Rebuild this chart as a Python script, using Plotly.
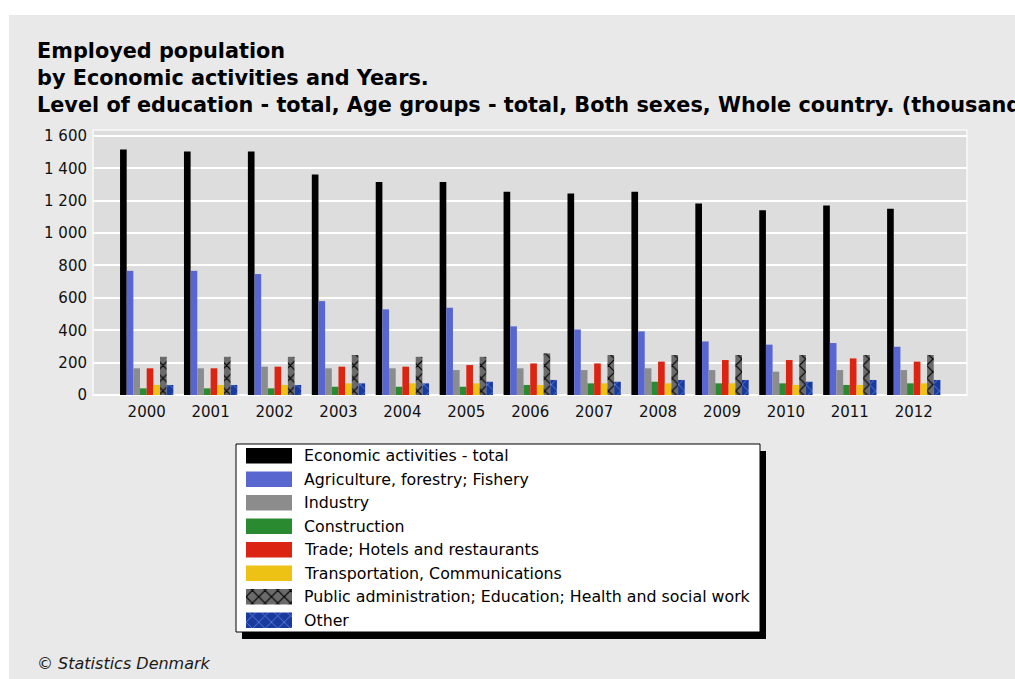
import plotly.graph_objects as go

# ---------------- data ----------------
years = ["2000", "2001", "2002", "2003", "2004", "2005", "2006",
         "2007", "2008", "2009", "2010", "2011", "2012"]

series_names = [
    "Economic activities - total",
    "Agriculture, forestry; Fishery",
    "Industry",
    "Construction",
    "Trade; Hotels and restaurants",
    "Transportation, Communications",
    "Public administration; Education; Health and social work",
    "Other",
]

total = [1517, 1504, 1504, 1362, 1316, 1316, 1255, 1244, 1255, 1183, 1141, 1170, 1150]
agriculture = [767, 767, 747, 580, 529, 539, 424, 405, 393, 331, 311, 321, 298]
industry = [165, 165, 175, 165, 165, 154, 165, 154, 165, 154, 144, 154, 154]
construction = [41, 41, 41, 51, 51, 51, 62, 72, 82, 72, 72, 62, 72]
trade = [165, 165, 175, 175, 175, 185, 195, 195, 206, 216, 216, 226, 206]
transport = [62, 62, 62, 72, 72, 72, 62, 72, 72, 72, 62, 62, 72]
public = [236, 236, 236, 247, 236, 236, 257, 247, 247, 247, 247, 247, 247]
other = [62, 62, 62, 72, 72, 82, 93, 82, 93, 93, 82, 93, 93]

series_values = [total, agriculture, industry, construction, trade, transport, public, other]

y_tick_values = [0, 200, 400, 600, 800, 1000, 1200, 1400, 1600]

title_lines = [
    "Employed population",
    "by Economic activities and Years.",
    "Level of education - total, Age groups - total, Both sexes, Whole country. (thousand)",
]
footer_text = "© Statistics Denmark"

# ---------------- styles ----------------
FONT = "DejaVu Sans"
markers = [
    dict(color="#000000"),
    dict(color="#5767cf"),
    dict(color="#8c8c8c"),
    dict(color="#2a8a30"),
    dict(color="#dc2412"),
    dict(color="#eec214"),
    dict(color="#6b6b6b", pattern=dict(shape="x", fillmode="replace",
                                        bgcolor="#6b6b6b", fgcolor="#000000",
                                        size=9, solidity=0.25)),
    dict(color="#1a3a9c", pattern=dict(shape="x", fillmode="replace",
                                        bgcolor="#1a3a9c", fgcolor="#5a7ae0",
                                        size=9, solidity=0.2)),
]

W, H = 1015, 679
L, R, T, B = 93, 48, 130, 47
PW = W - L - R
PH = H - T - B


def px(x):
    return (x - L) / PW


def py(y):
    return (H - B - y) / PH


fig = go.Figure()

# main bars
for name, vals, mk in zip(series_names, series_values, markers):
    m = dict(mk)
    m["line"] = dict(width=0)
    fig.add_trace(go.Bar(x=years, y=vals, name=name, marker=m,
                         xaxis="x", yaxis="y", showlegend=False))

# legend swatches (drawn on a small helper axis)
for name, mk in zip(series_names, markers):
    m = dict(mk)
    m["line"] = dict(width=0)
    fig.add_trace(go.Bar(x=[1], y=[name], orientation="h", marker=m,
                         xaxis="x2", yaxis="y2", width=0.66,
                         offsetgroup="legend", showlegend=False,
                         hoverinfo="skip"))

shapes = [
    # grey panel
    dict(type="rect", xref="paper", yref="paper",
         x0=px(9), x1=px(W + 5), y0=py(15), y1=py(H + 5),
         fillcolor="#e9e9e9", line=dict(width=0), layer="below"),
    # plot area background
    dict(type="rect", xref="x domain", yref="y domain",
         x0=0, x1=1, y0=0, y1=1,
         fillcolor="#dddddd", line=dict(color="#f4f4f4", width=2), layer="below"),
    # legend shadow
    dict(type="rect", xref="paper", yref="paper",
         x0=px(242), x1=px(766), y0=py(451), y1=py(639),
         fillcolor="#000000", line=dict(width=0), layer="below"),
    # legend box
    dict(type="rect", xref="paper", yref="paper",
         x0=px(236), x1=px(760), y0=py(444), y1=py(632),
         fillcolor="#ffffff", line=dict(color="#000000", width=1), layer="below"),
]

annotations = []
# legend texts
for name in series_names:
    annotations.append(dict(xref="paper", yref="y2", x=px(302), y=name,
                            text=name, showarrow=False, xanchor="left",
                            yanchor="middle",
                            font=dict(family=FONT, size=15.8, color="#000000")))
# title
annotations.append(dict(xref="paper", yref="paper", x=px(35), y=py(37),
                        text="<br>".join("<b>%s</b>" % t for t in title_lines),
                        showarrow=False, xanchor="left", yanchor="top", align="left",
                        font=dict(family=FONT, size=20.8, color="#000000")))
# footer
annotations.append(dict(xref="paper", yref="paper", x=px(35), y=py(663),
                        text="<i>%s</i>" % footer_text,
                        showarrow=False, xanchor="left", yanchor="middle",
                        font=dict(family=FONT, size=16, color="#1a1a1a")))

fig.update_layout(
    width=W, height=H,
    margin=dict(l=L, r=R, t=T, b=B, pad=0),
    paper_bgcolor="#ffffff",
    plot_bgcolor="rgba(0,0,0,0)",
    barmode="group",
    bargap=0.166,
    bargroupgap=0,
    separators=", ",
    showlegend=False,
    shapes=shapes,
    annotations=annotations,
    xaxis=dict(domain=[0, 1], anchor="y", type="category",
               range=[-0.84, 12.833], showgrid=False, zeroline=False,
               showline=False, ticks="outside", ticklen=3,
               tickcolor="rgba(0,0,0,0)",
               tickfont=dict(family=FONT, size=15, color="#111111")),
    yaxis=dict(domain=[py(395), 1], anchor="x", range=[0, 1637],
               tickvals=y_tick_values, tickformat=",d",
               showgrid=True, gridcolor="#ffffff", gridwidth=2,
               zeroline=True, zerolinecolor="#ffffff", zerolinewidth=2,
               showline=False, ticks="outside", ticklen=2,
               tickcolor="rgba(0,0,0,0)",
               tickfont=dict(family=FONT, size=15, color="#111111")),
    xaxis2=dict(domain=[px(246), px(292)], anchor="y2", range=[0, 1],
                visible=False),
    yaxis2=dict(domain=[py(632), py(444)], anchor="x2", type="category",
                categoryorder="array", categoryarray=series_names,
                range=[7.5, -0.5], visible=False),
)

fig.write_html("out.html")
